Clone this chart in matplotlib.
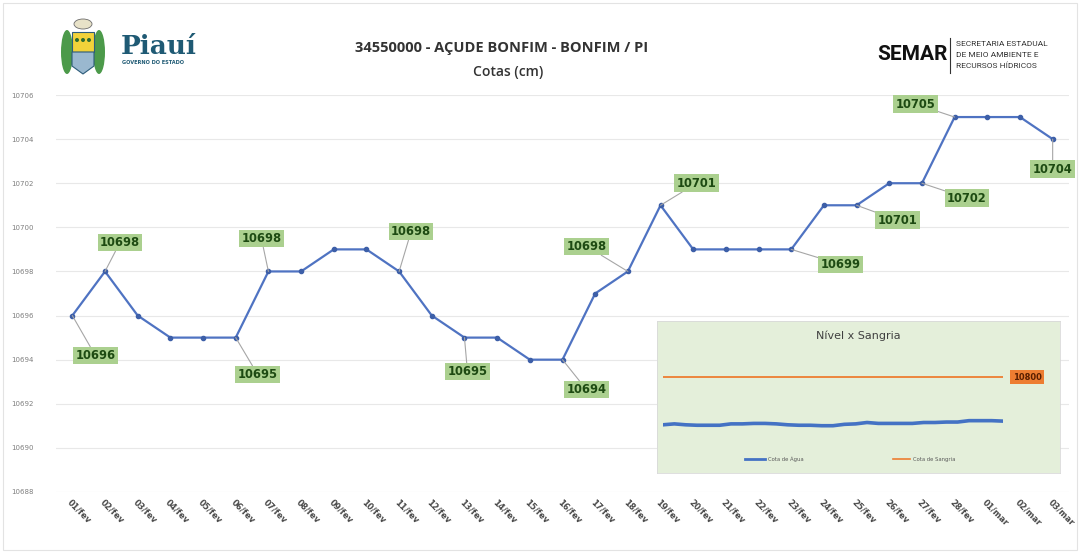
import matplotlib
matplotlib.use("Agg")
import matplotlib.pyplot as plt
from matplotlib.patches import Rectangle, Ellipse, Polygon
from matplotlib.lines import Line2D

# ---------------- data ----------------
dias = ["01/fev", "02/fev", "03/fev", "04/fev", "05/fev", "06/fev", "07/fev", "08/fev",
        "09/fev", "10/fev", "11/fev", "12/fev", "13/fev", "14/fev", "15/fev", "16/fev",
        "17/fev", "18/fev", "19/fev", "20/fev", "21/fev", "22/fev", "23/fev", "24/fev",
        "25/fev", "26/fev", "27/fev", "28/fev", "01/mar", "02/mar", "03/mar"]
cotas = [10696, 10698, 10696, 10695, 10695, 10695, 10698, 10698,
         10699, 10699, 10698, 10696, 10695, 10695, 10694, 10694,
         10697, 10698, 10701, 10699, 10699, 10699, 10699, 10701,
         10701, 10702, 10702, 10705, 10705, 10705, 10704]
cota_sangria = 10800
y_ticks = [10688, 10690, 10692, 10694, 10696, 10698, 10700, 10702, 10704, 10706]
y_tick_labels = [str(v) for v in y_ticks]
# indices of labelled points and their label offsets (pixels, x right / y up)
label_idx = [0, 1, 5, 6, 10, 12, 15, 17, 18, 22, 24, 26, 27, 30]
label_off = [(23, -40), (15, 29), (22, -37), (-7, 33), (12, 40), (3, -34), (24, -30),
             (-41, 25), (36, 22), (49, -15), (41, -15), (45, -15), (-39, 13), (0, -30)]

W, H = 1080, 555
fig = plt.figure(figsize=(W / 100, H / 100), dpi=100)
fig.patch.set_facecolor("white")

def fx(px):
    return px / W

def fy(py):
    return 1 - py / H

# ---------------- main axes ----------------
left, right, top, bottom = 56, 1069, 95, 492
ax = fig.add_axes([fx(left), fy(bottom), fx(right - left), (bottom - top) / H])
x = list(range(len(dias)))
ax.plot(x, cotas, color="#4f73c2", lw=1.6, marker="o", ms=3,
        markerfacecolor="#3d5fa8", markeredgecolor="#3d5fa8", zorder=3)
ax.set_xlim(-0.5, len(dias) - 0.5)
ax.set_ylim(y_ticks[0], y_ticks[-1])
ax.set_yticks(y_ticks)
ax.set_yticklabels(y_tick_labels, fontsize=5, color="#7f7f7f")
ax.set_xticks(x)
ax.set_xticklabels(dias, rotation=-45, ha="left", va="top", rotation_mode="anchor",
                   fontsize=6, color="#4a4a4a", fontweight="bold")
ax.tick_params(axis="both", length=0)
ax.tick_params(axis="y", pad=16)
ax.tick_params(axis="x", pad=4)
for s in ax.spines.values():
    s.set_visible(False)
ax.grid(axis="y", color="#e8e8e8", lw=0.8)
ax.set_axisbelow(True)

for i, (dx, dy) in zip(label_idx, label_off):
    ax.annotate(str(cotas[i]), xy=(i, cotas[i]), xytext=(dx, dy), textcoords="offset pixels",
                ha="center", va="center", fontsize=8.3, fontweight="bold", color="#1d4a12",
                bbox=dict(boxstyle="square,pad=0.2", fc="#abd08f", ec="none"),
                arrowprops=dict(arrowstyle="-", color="#a6a6a6", lw=0.8, shrinkA=0, shrinkB=0),
                zorder=4)

# ---------------- inset ----------------
bx0, bx1, by0, by1 = 657, 1060, 321, 473
bg = fig.add_axes([fx(bx0), fy(by1), fx(bx1 - bx0), (by1 - by0) / H])
bg.set_facecolor("#e4efda")
bg.set_xticks([]); bg.set_yticks([])
for s in bg.spines.values():
    s.set_color("#d9d9d9"); s.set_linewidth(0.6)
bg.text(0.5, 0.9, "Nível x Sangria", transform=bg.transAxes, ha="center", va="center",
        fontsize=8, color="#404040")

def bxf(px):
    return (px - bx0) / (bx1 - bx0)

leg_y = (by1 - 459) / (by1 - by0)
bg.add_line(Line2D([bxf(745), bxf(765)], [leg_y] * 2, transform=bg.transAxes,
                   color="#4472c4", lw=2))
bg.text(bxf(768), leg_y, "Cota de Água", transform=bg.transAxes, fontsize=3.8,
        color="#595959", va="center")
bg.add_line(Line2D([bxf(893), bxf(910)], [leg_y] * 2, transform=bg.transAxes,
                   color="#ed7d31", lw=1.2))
bg.text(bxf(913), leg_y, "Cota de Sangria", transform=bg.transAxes, fontsize=3.8,
        color="#595959", va="center")

ix0, ix1, iy0, iy1 = 663, 1003, 355, 445
ins = fig.add_axes([fx(ix0), fy(iy1), fx(ix1 - ix0), (iy1 - iy0) / H])
ins.patch.set_alpha(0)
ins.plot(x, [cota_sangria] * len(x), color="#ed7d31", lw=1.3)
ins.plot(x, cotas, color="#4472c4", lw=2.6)
ins.set_xlim(0, len(x) - 1)
ins.set_ylim(10652, 10848)
ins.axis("off")
ins.annotate(str(cota_sangria), xy=(len(x) - 1, cota_sangria), xytext=(24, 0),
             textcoords="offset pixels", ha="center", va="center", fontsize=6,
             fontweight="bold", color="#5a1f00",
             bbox=dict(boxstyle="square,pad=0.35", fc="#ed7d31", ec="none"))

# ---------------- header / decorations ----------------
deco = fig.add_axes([0, 0, 1, 1], zorder=-1)
deco.set_xlim(0, W); deco.set_ylim(H, 0); deco.axis("off")
deco.add_patch(Rectangle((3, 3), W - 6, H - 8, fill=False, ec="#e3e3e3", lw=0.8))

top_ax = fig.add_axes([0, 0, 1, 1], zorder=5)
top_ax.set_xlim(0, W); top_ax.set_ylim(H, 0); top_ax.axis("off")
top_ax.patch.set_alpha(0)
# emblem
top_ax.add_patch(Ellipse((67, 52), 12, 44, fc="#4c9a4a", ec="none"))
top_ax.add_patch(Ellipse((99, 52), 12, 44, fc="#4c9a4a", ec="none"))
top_ax.add_patch(Rectangle((72, 32), 22, 20, fc="#f2d23a", ec="#2d5c7a", lw=0.8))
top_ax.add_patch(Polygon([(72, 52), (94, 52), (94, 66), (83, 74), (72, 66)],
                         closed=True, fc="#9ab8cf", ec="#2d5c7a", lw=0.8))
top_ax.add_patch(Ellipse((83, 24), 18, 10, fc="#e8e2c8", ec="#6b6b6b", lw=0.6))
for cx in (77, 83, 89):
    top_ax.add_patch(Ellipse((cx, 40), 4, 4, fc="#2f6b2f", ec="none"))
top_ax.text(121, 47, "Piauí", fontsize=19, fontweight="bold", family="DejaVu Serif",
            color="#1f5a74", va="center", ha="left")
top_ax.text(122, 63, "GOVERNO DO ESTADO", fontsize=3.6, fontweight="bold",
            color="#1f5a74", va="center", ha="left")
# title
top_ax.text(502, 48, "34550000 - AÇUDE BONFIM - BONFIM / PI", fontsize=10.5,
            fontweight="bold", family="Open Sans", color="#333333", ha="center", va="center")
top_ax.text(508, 72, "Cotas (cm)", fontsize=10, family="Open Sans", fontweight="semibold",
            color="#333333", ha="center", va="center")
# SEMAR
top_ax.text(912, 55, "SEMAR", fontsize=15, fontweight="bold",
            family=["Roboto", "DejaVu Sans"], color="#111111",
            ha="center", va="center")
top_ax.plot([950, 950], [38, 73], color="#333333", lw=0.8)
for k, line in enumerate(["SECRETARIA ESTADUAL", "DE MEIO AMBIENTE E", "RECURSOS HÍDRICOS"]):
    top_ax.text(956, 44 + k * 11, line, fontsize=6,
                family=["Roboto", "DejaVu Sans"], color="#333333",
                ha="left", va="center")

fig.savefig("out.png", dpi=100, facecolor="white")
